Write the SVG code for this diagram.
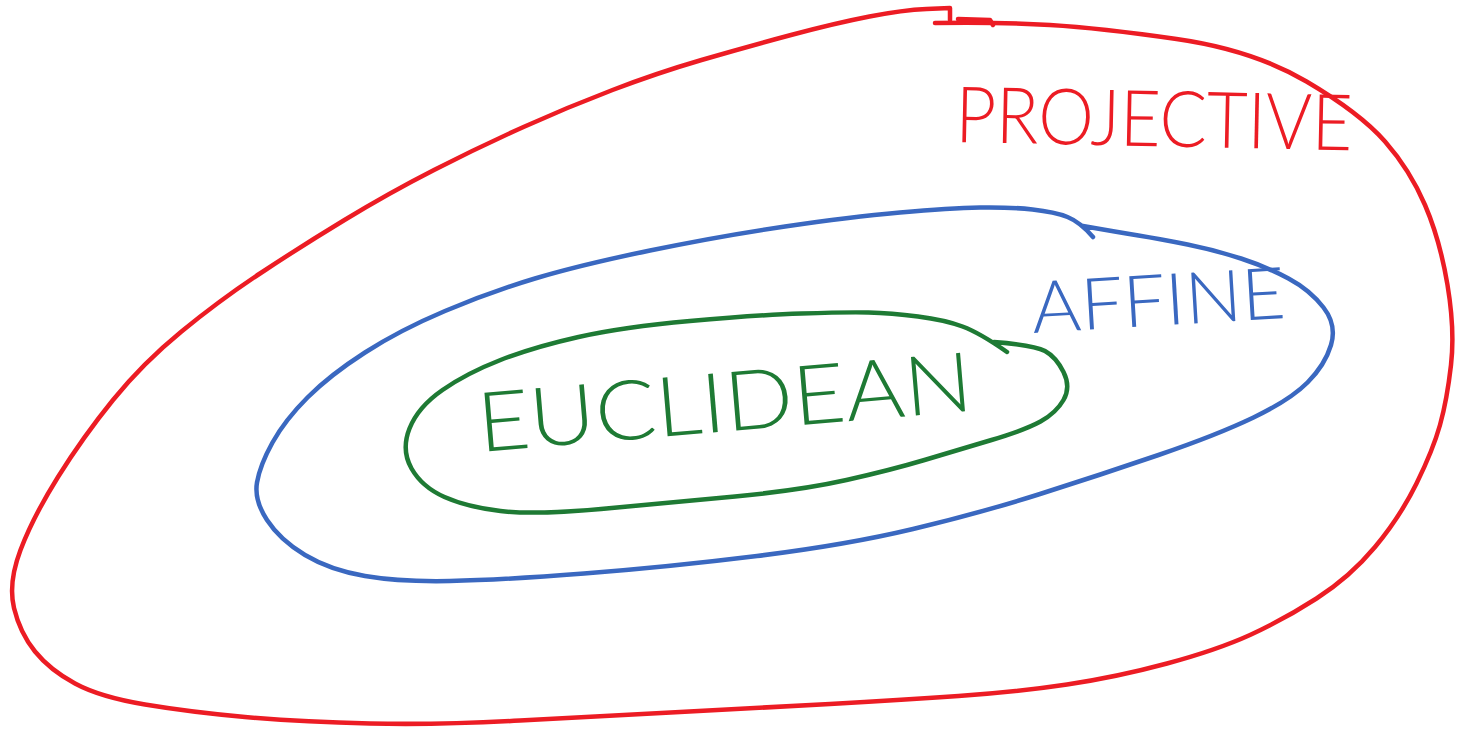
<svg xmlns="http://www.w3.org/2000/svg" width="1459" height="731" viewBox="0 0 1459 731">
  <style>
    .loop { fill: none; stroke-width: 4.5; stroke-linecap: round; stroke-linejoin: round; }
    .lbl { font-family: "Lato", "Open Sans", "Liberation Sans", sans-serif; font-weight: 300; }
    .red { stroke: #ec1c24; }
    .blue { stroke: #3a68c0; }
    .green { stroke: #1e7a34; }
  </style>
  <rect width="1459" height="731" fill="#ffffff"/>
  <g id="projective">
    <path class="loop red" d="M935,23 Q1000,22 1050,25 T1176.5,39 T1306.5,81.5 T1385,141.5 T1425,205 T1447.5,285 T1451,365 T1440,425 T1416.5,483.5 T1375,547 T1316.5,598.5 T1250,635 T1167,663.5 T1067,684.5 T958.5,696 T830,704 T680,712 T520,720.5 T370,723.5 T245,717 T145,704.5 T75,683.5 T35,651.5 T14,608 T20.5,550 T58,477 T113,400 T181.5,331.5 T260,273.5 T344.5,220 T434,170 T523.5,127 T612.5,90 T701.5,60 T791,35 T869.5,16.5 T926.5,9 T950,8 L950,20"/>
    <path class="loop red" d="M958,19 L990,20 L993,25"/>
    <text class="lbl" x="955" y="142" font-size="78" fill="#ec1c24" textLength="397" lengthAdjust="spacingAndGlyphs" transform="rotate(1.2 955 142)">PROJECTIVE</text>
  </g>
  <g id="affine">
    <path class="loop blue" d="M1083,226 Q1117,232 1138.5,235.5 T1187.5,244.5 T1241,258.5 T1288.5,278.5 T1323.5,307.5 T1331,345 T1307.5,382.5 T1253.5,417.5 T1158.5,455 T1040,494 T913,529 T757,556 T584,573.5 T450,581 T365,576 T305,555 T267,520 T257,482.5 T272.5,442.5 T307.5,397.5 T365,352.5 T445,311 T535,278.5 T650,250.5 T785,226.5 T900,212.5 T980,207.5 T1032.5,209.5 T1067.5,217 T1093,237"/>
    <text class="lbl" x="1033" y="333" font-size="72" fill="#3a68c0" textLength="254" lengthAdjust="spacingAndGlyphs" transform="rotate(-3.4 1033 333)">AFFINE</text>
  </g>
  <g id="euclidean">
    <path class="loop green" d="M994,342 Q1034,345 1045,351 T1063.5,372 T1063.5,400 T1040.5,421.5 T991.5,440 T924.5,460 T846.5,480 T735,496.5 T601,509 T500.5,511 T444.5,497 T411.5,468.5 T409.5,428.5 T442.5,390 T500.5,360 T578.5,337 T690,321 T801.5,313.5 T868.5,312.5 T918,316.5 T962.5,326.5 T1007,352"/>
    <text class="lbl" x="480" y="452" font-size="83" fill="#1e7a34" textLength="496" lengthAdjust="spacingAndGlyphs" transform="rotate(-4.8 480 452)">EUCLIDEAN</text>
  </g>
  <g id="connectors"/>
</svg>
